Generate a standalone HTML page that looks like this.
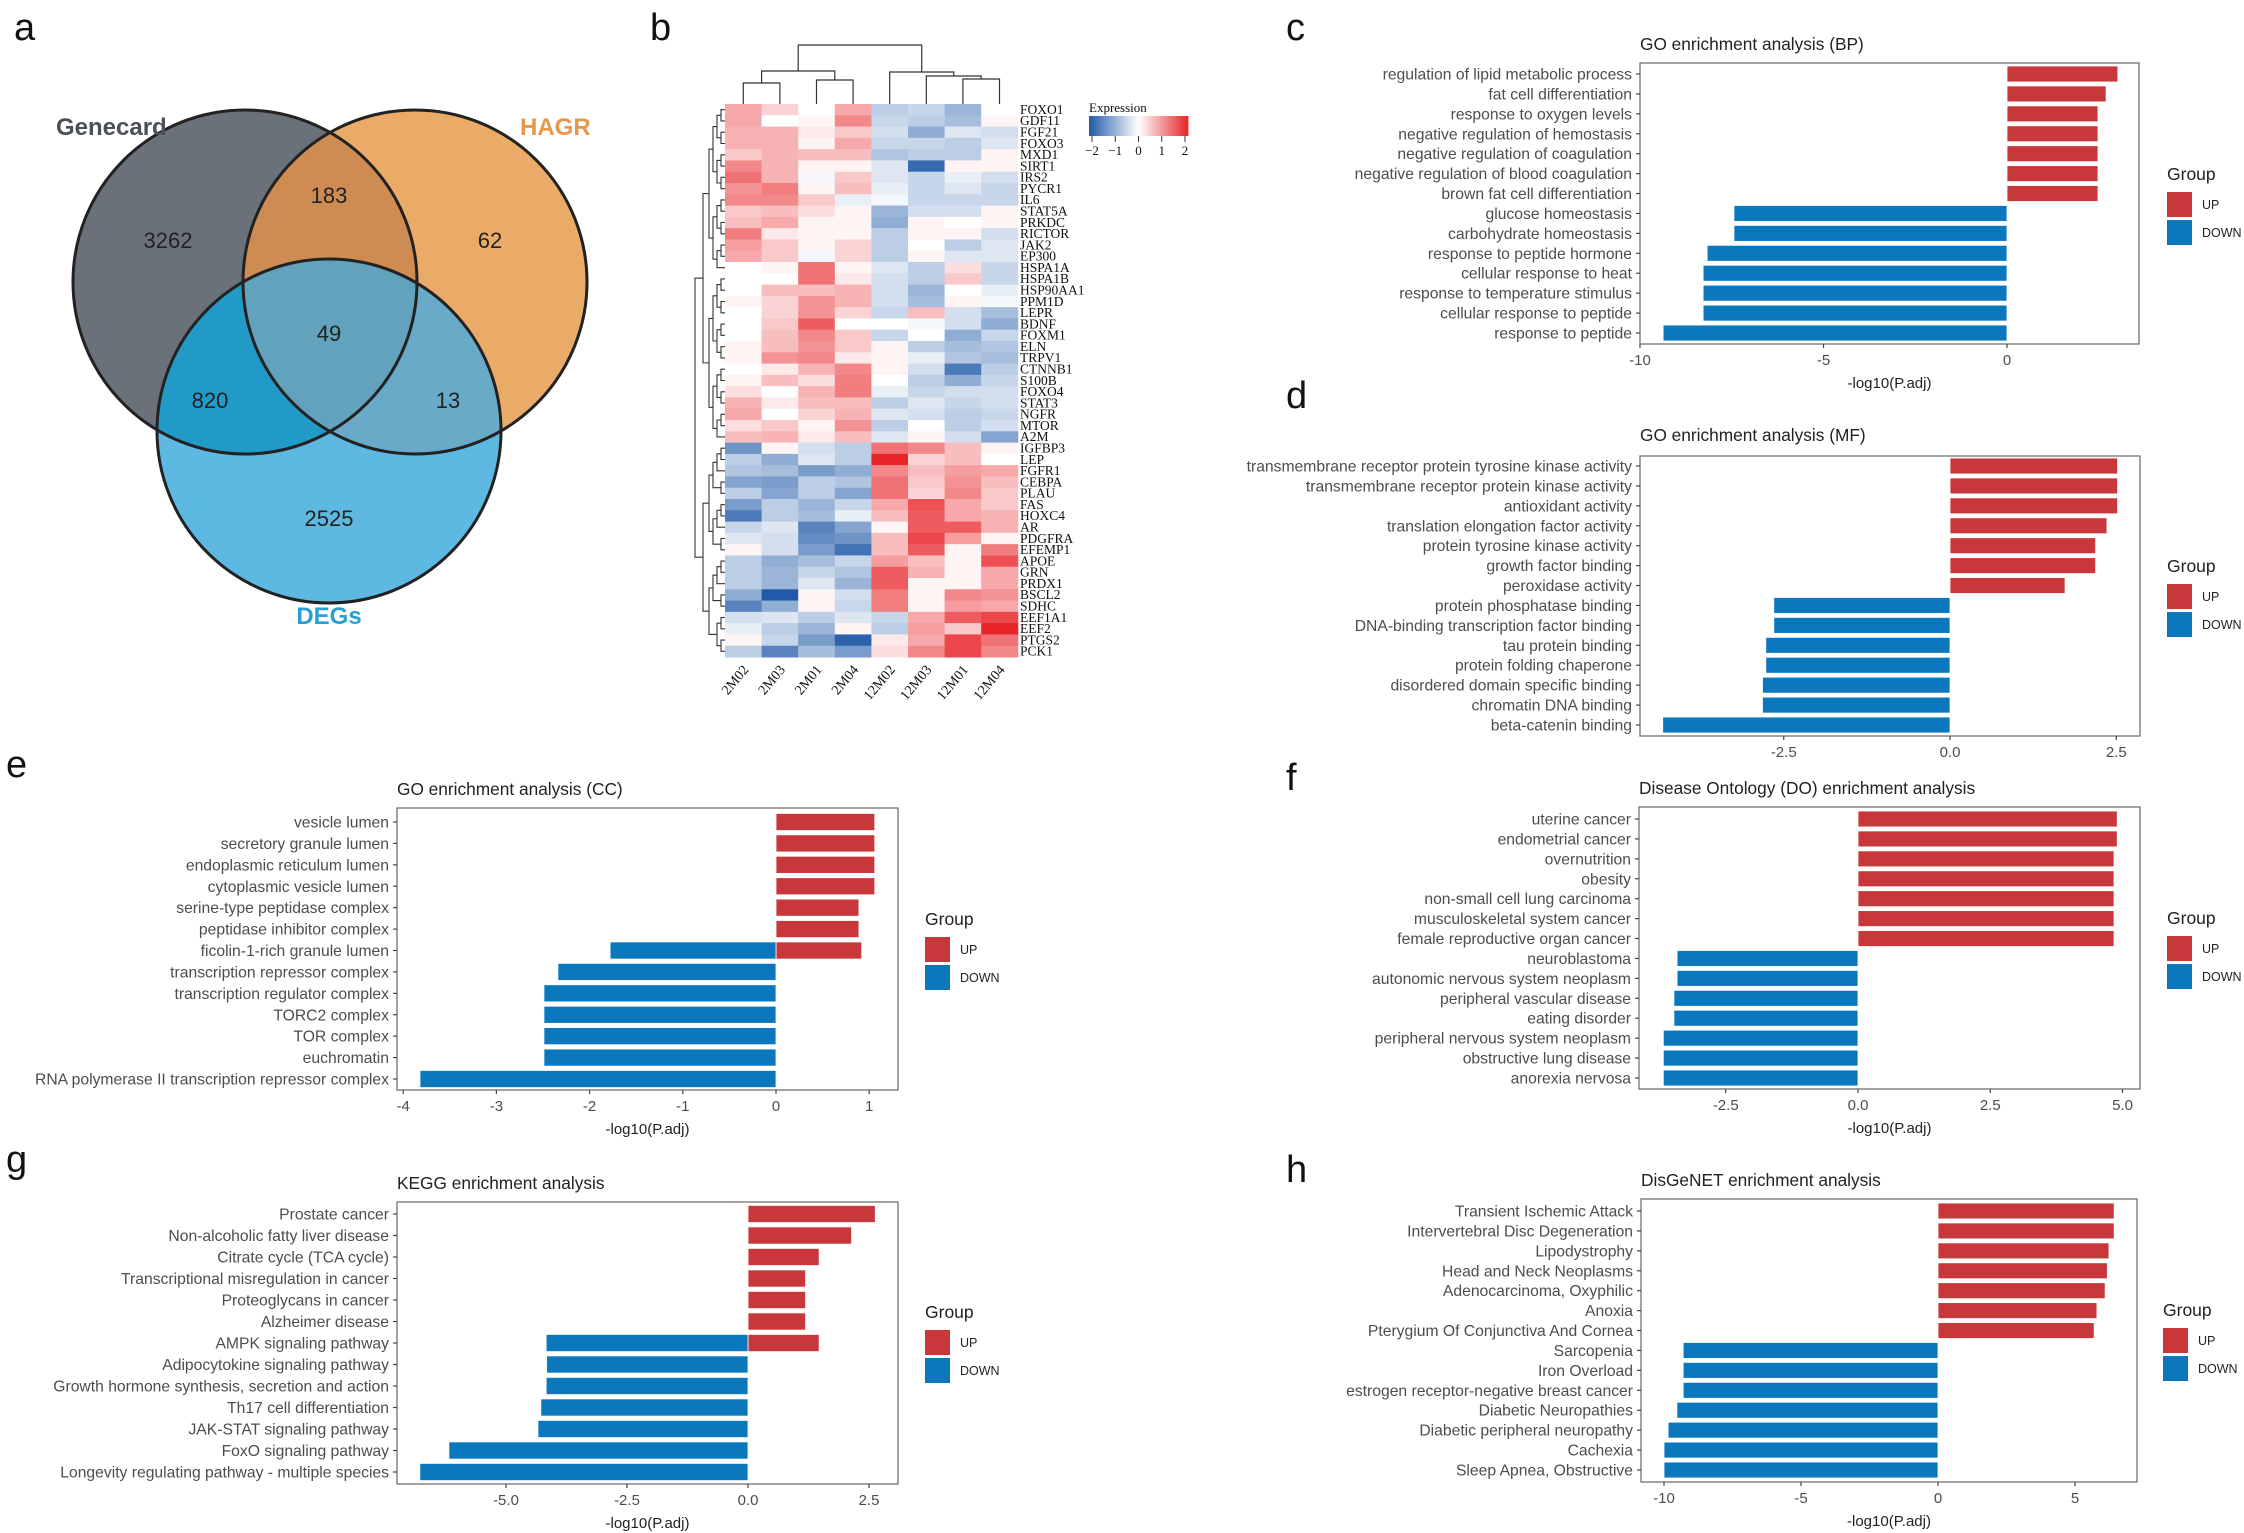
<!DOCTYPE html>
<html><head><meta charset="utf-8">
<style>
html,body{margin:0;padding:0;background:#fff;}
svg{display:block;font-family:"Liberation Sans",Arial,sans-serif;}
</style></head>
<body>
<svg id="fig" width="2244" height="1533" viewBox="0 0 2244 1533" xmlns="http://www.w3.org/2000/svg">
<rect x="0" y="0" width="2244" height="1533" fill="#fff"/>
<g id="venn">
  <defs>
    <clipPath id="cg"><circle cx="245" cy="282" r="172"/></clipPath>
    <clipPath id="ch"><circle cx="415" cy="282" r="172"/></clipPath>
    <clipPath id="cd"><circle cx="329" cy="431" r="172"/></clipPath>
  </defs>
  <circle cx="245" cy="282" r="172" fill="#6b717b"/>
  <circle cx="415" cy="282" r="172" fill="#ebab68"/>
  <circle cx="329" cy="431" r="172" fill="#5db9e1"/>
  <g clip-path="url(#cg)"><circle cx="415" cy="282" r="172" fill="#cf8c52"/><circle cx="329" cy="431" r="172" fill="#229ac8"/></g>
  <g clip-path="url(#ch)"><circle cx="329" cy="431" r="172" fill="#6aaac9"/></g>
  <g clip-path="url(#cg)"><g clip-path="url(#ch)"><circle cx="329" cy="431" r="172" fill="#63a2bc"/></g></g>
  <g fill="none" stroke="#222" stroke-width="3">
    <circle cx="245" cy="282" r="172"/><circle cx="415" cy="282" r="172"/><circle cx="329" cy="431" r="172"/>
  </g>
  <g font-size="22" fill="#222" text-anchor="middle">
    <text x="168" y="248">3262</text>
    <text x="329" y="203">183</text>
    <text x="490" y="248">62</text>
    <text x="329" y="341">49</text>
    <text x="210" y="408">820</text>
    <text x="448" y="408">13</text>
    <text x="329" y="526">2525</text>
  </g>
  <text x="56" y="135" font-size="24" font-weight="bold" fill="#4a4f58">Genecard</text>
  <text x="520" y="135" font-size="24" font-weight="bold" fill="#e5974a">HAGR</text>
  <text x="329" y="624" font-size="24" font-weight="bold" fill="#2a9fd4" text-anchor="middle">DEGs</text>
</g>
<g id="heat"></g>
<g id="bars"></g>
<g font-size="38" fill="#111" font-family="Liberation Sans, sans-serif">
  <text x="14" y="40">a</text>
  <text x="650" y="40">b</text>
  <text x="1286" y="40">c</text>
  <text x="1286" y="408">d</text>
  <text x="6" y="777">e</text>
  <text x="1286" y="790">f</text>
  <text x="6" y="1172">g</text>
  <text x="1286" y="1182">h</text>
</g>
</svg>
<script>
const NS="http://www.w3.org/2000/svg";
// ---------- heatmap data ----------
const heatSamples=["2M02","2M03","2M01","2M04","12M02","12M03","12M01","12M04"];
const heatGenes=["FOXO1","GDF11","FGF21","FOXO3","MXD1","SIRT1","IRS2","PYCR1","IL6","STAT5A","PRKDC","RICTOR","JAK2","EP300","HSPA1A","HSPA1B","HSP90AA1","PPM1D","LEPR","BDNF","FOXM1","ELN","TRPV1","CTNNB1","S100B","FOXO4","STAT3","NGFR","MTOR","A2M","IGFBP3","LEP","FGFR1","CEBPA","PLAU","FAS","HOXC4","AR","PDGFRA","EFEMP1","APOE","GRN","PRDX1","BSCL2","SDHC","EEF1A1","EEF2","PTGS2","PCK1"];
const heatValues=[
[0.8,0.4,0,0.8,-0.6,-0.5,-0.9,0],[0.8,0,0.1,1.1,-0.5,-0.6,-0.8,0.1],[0.7,0.7,0.2,0.5,-0.4,-1.0,-0.3,-0.4],[0.7,0.7,0.1,0.8,-0.5,-0.5,-0.6,-0.3],
[0.5,0.7,0.6,0.6,-0.7,-0.6,-0.6,0.1],[1.1,0.7,0.1,0.1,-0.3,-1.8,0.1,0.1],[1.3,0.7,-0.1,0.5,-0.3,-0.5,-0.2,-0.4],[1.0,1.2,0.1,0.6,-0.2,-0.5,-0.3,-0.5],
[1.1,1.1,0.5,-0.2,-0.1,-0.5,-0.5,-0.5],[0.5,0.6,0.3,0.1,-0.9,-0.4,-0.4,0.1],[0.6,0.8,0.1,0.1,-1.0,0.1,0,0.1],[1.2,0.2,0.1,0.1,-0.6,0.1,0.1,-0.4],
[0.9,0.5,0.1,0.4,-0.6,0,-0.6,-0.3],[0.8,0.5,-0.1,0.4,-0.6,0.1,-0.3,-0.3],[0,0.1,1.3,0.1,-0.3,-0.6,0.3,-0.5],[0,0,1.3,0.2,-0.4,-0.6,0.5,-0.5],
[0,0.6,0.6,0.7,-0.4,-0.9,0,-0.2],[0.1,0.4,1.0,0.7,-0.4,-0.8,0.1,-0.1],[0,0.4,1.0,0.4,-0.5,0.6,-0.4,-0.8],[0,0.5,1.5,0,0,-0.1,-0.4,-1.0],
[0,0.6,1.1,0.5,-0.5,0,-1.0,-0.5],[0.1,0.6,1.0,0.5,0.1,-0.6,-0.8,-0.7],[0.1,1.0,1.1,0.2,0.1,-0.2,-0.7,-0.8],[0,0.2,0.7,1.1,0.1,-0.4,-1.6,-0.6],
[0.1,0.6,0.3,1.2,0,-0.6,-1.0,-0.5],[0.3,0,0.7,1.2,-0.2,-0.5,-0.4,-0.4],[0.7,0.2,0.6,0.6,-0.6,-0.3,-0.5,-0.4],[0.8,0,0.4,0.7,-0.3,-0.4,-0.6,-0.5],
[0.3,0.5,0.1,1.0,-0.6,0,-0.6,-0.4],[0.6,0.7,0.2,0.6,-0.3,0.1,-0.4,-1.1],[-1.3,0.1,-0.4,-0.6,1.3,1.1,0.6,0.1],[-0.6,-1.0,-0.3,-0.6,2.0,0.4,0.6,0],
[-0.7,-0.8,-1.2,-1.0,1.1,0.6,0.9,0.8],[-1.1,-1.2,-0.6,-0.7,1.3,0.5,1.0,0.6],[-0.6,-1.1,-0.6,-1.1,1.3,0.4,1.1,0.5],[-1.2,-0.6,-0.9,-0.5,0.8,1.6,0.8,0.5],
[-1.6,-0.6,-0.8,-0.2,0.6,1.5,0.8,0.7],[-0.5,-0.3,-1.5,-1.1,0.1,1.5,1.5,0.7],[-0.3,-0.4,-1.4,-1.3,0.6,1.7,0.9,0.1],[0.1,-0.4,-1.2,-1.7,0.6,1.5,0.1,1.2],
[-0.6,-1.0,-0.8,-0.5,0.9,0.6,0.1,1.6],[-0.6,-0.9,-0.5,-0.7,1.5,0.7,0.1,0.8],[-0.6,-0.9,-0.3,-0.9,1.5,0.1,0.1,0.8],[-1.0,-2.0,0.1,-0.4,1.2,0.1,1.1,1.0],
[-1.5,-1.0,0.1,-0.5,1.2,0.1,0.9,0.8],[-0.4,-0.3,-0.6,-0.3,-0.5,0.8,1.5,1.7],[-0.2,-0.6,-0.9,0.1,-0.6,0.9,0.5,2.0],[0.1,-0.5,-1.2,-1.9,0.2,0.8,1.7,1.3],
[-0.6,-1.5,-0.8,-1.2,0.3,1.1,1.7,1.1]];
const heatLegendTicks=[-2,-1,0,1,2];

// ---------- bar chart data ----------
const labelsC=["regulation of lipid metabolic process","fat cell differentiation","response to oxygen levels","negative regulation of hemostasis","negative regulation of coagulation","negative regulation of blood coagulation","brown fat cell differentiation","glucose homeostasis","carbohydrate homeostasis","response to peptide hormone","cellular response to heat","response to temperature stimulus","cellular response to peptide","response to peptide"];
const upC=[3.02,2.7,2.48,2.48,2.48,2.48,2.48,null,null,null,null,null,null,null];
const downC=[null,null,null,null,null,null,null,-7.44,-7.44,-8.17,-8.28,-8.28,-8.28,-9.37];
const ticksC=[-10,-5,0];
const tickLabelsC=["-10","-5","0"];

const labelsD=["transmembrane receptor protein tyrosine kinase activity","transmembrane receptor protein kinase activity","antioxidant activity","translation elongation factor activity","protein tyrosine kinase activity","growth factor binding","peroxidase activity","protein phosphatase binding","DNA-binding transcription factor binding","tau protein binding","protein folding chaperone","disordered domain specific binding","chromatin DNA binding","beta-catenin binding"];
const upD=[2.52,2.52,2.52,2.36,2.19,2.19,1.73,null,null,null,null,null,null,null];
const downD=[null,null,null,null,null,null,null,-2.65,-2.65,-2.77,-2.77,-2.82,-2.82,-4.32];
const ticksD=[-2.5,0,2.5];
const tickLabelsD=["-2.5","0.0","2.5"];

const labelsE=["vesicle lumen","secretory granule lumen","endoplasmic reticulum lumen","cytoplasmic vesicle lumen","serine-type peptidase complex","peptidase inhibitor complex","ficolin-1-rich granule lumen","transcription repressor complex","transcription regulator complex","TORC2 complex","TOR complex","euchromatin","RNA polymerase II transcription repressor complex"];
const upE=[1.06,1.06,1.06,1.06,0.89,0.89,0.92,null,null,null,null,null,null];
const downE=[null,null,null,null,null,null,-1.78,-2.34,-2.49,-2.49,-2.49,-2.49,-3.82];
const ticksE=[-4,-3,-2,-1,0,1];
const tickLabelsE=["-4","-3","-2","-1","0","1"];

const labelsF=["uterine cancer","endometrial cancer","overnutrition","obesity","non-small cell lung carcinoma","musculoskeletal system cancer","female reproductive organ cancer","neuroblastoma","autonomic nervous system neoplasm","peripheral vascular disease","eating disorder","peripheral nervous system neoplasm","obstructive lung disease","anorexia nervosa"];
const upF=[4.9,4.9,4.84,4.84,4.84,4.84,4.84,null,null,null,null,null,null,null];
const downF=[null,null,null,null,null,null,null,-3.42,-3.42,-3.48,-3.48,-3.68,-3.68,-3.68];
const ticksF=[-2.5,0,2.5,5];
const tickLabelsF=["-2.5","0.0","2.5","5.0"];

const labelsG=["Prostate cancer","Non-alcoholic fatty liver disease","Citrate cycle (TCA cycle)","Transcriptional misregulation in cancer","Proteoglycans in cancer","Alzheimer disease","AMPK signaling pathway","Adipocytokine signaling pathway","Growth hormone synthesis, secretion and action","Th17 cell differentiation","JAK-STAT signaling pathway","FoxO signaling pathway","Longevity regulating pathway - multiple species"];
const upG=[2.63,2.14,1.47,1.19,1.19,1.19,1.47,null,null,null,null,null,null];
const downG=[null,null,null,null,null,null,-4.17,-4.16,-4.17,-4.28,-4.34,-6.18,-6.78];
const ticksG=[-5,-2.5,0,2.5];
const tickLabelsG=["-5.0","-2.5","0.0","2.5"];

const labelsH=["Transient Ischemic Attack","Intervertebral Disc Degeneration","Lipodystrophy","Head and Neck Neoplasms","Adenocarcinoma, Oxyphilic","Anoxia","Pterygium Of Conjunctiva And Cornea","Sarcopenia","Iron Overload","estrogen receptor-negative breast cancer","Diabetic Neuropathies","Diabetic peripheral neuropathy","Cachexia","Sleep Apnea, Obstructive"];
const upH=[6.43,6.43,6.24,6.18,6.1,5.8,5.7,null,null,null,null,null,null,null];
const downH=[null,null,null,null,null,null,null,-9.3,-9.3,-9.3,-9.53,-9.85,-10.0,-10.0];
const ticksH=[-10,-5,0,5];
const tickLabelsH=["-10","-5","0","5"];

function mk(tag,attrs,parent,text){const e=document.createElementNS(NS,tag);for(const k in attrs)e.setAttribute(k,attrs[k]);if(text!==undefined)e.textContent=text;parent.appendChild(e);return e;}

// ---------- heatmap ----------
(function(){
  const g=document.getElementById('heat');
  const x0=725,y0=104,cw=36.6,rh=553/heatGenes.length;
  function col(v){const t=Math.max(-1,Math.min(1,v/2));
    if(t>=0){return `rgb(${Math.round(255-t*(255-232))},${Math.round(255-t*(255-38))},${Math.round(255-t*(255-42))})`;}
    const s=-t;return `rgb(${Math.round(255-s*(255-33))},${Math.round(255-s*(255-90))},${Math.round(255-s*(255-168))})`;}
  heatValues.forEach((row,i)=>{row.forEach((v,j)=>{
    const r=mk('rect',{x:x0+j*cw,y:y0+i*rh,width:cw+0.5,height:rh+0.5,fill:col(v)},g);
    
    
  });
    const t=mk('text',{x:1020,y:y0+i*rh+rh*0.88,'font-size':13.5,'font-family':'Liberation Serif, serif',fill:'#111'},g,heatGenes[i]);
    
    
  });
  heatSamples.forEach((s,j)=>{
    const cx=x0+(j+0.5)*cw;
    const t=mk('text',{x:cx+6,y:670,'font-size':14,'font-family':'Liberation Serif, serif',fill:'#111','text-anchor':'end',transform:`rotate(-50 ${cx+6} 670)`},g,s);
    
    
  });
  const cxs=heatSamples.map((s,j)=>x0+(j+0.5)*cw);
  const dg=mk('g',{stroke:'#333','stroke-width':1.2,fill:'none'},g);
  
  
  function br(xa,ya,xb,yb,h){mk('path',{d:`M${xa},${ya}V${h}H${xb}V${yb}`},dg);}
  br(cxs[0],104,cxs[1],104,83); br(cxs[2],104,cxs[3],104,80);
  br((cxs[0]+cxs[1])/2,83,(cxs[2]+cxs[3])/2,80,71);
  br(cxs[6],104,cxs[7],104,79); br(cxs[5],104,(cxs[6]+cxs[7])/2,79,76);
  br(cxs[4],104,(cxs[5]+(cxs[6]+cxs[7])/2)/2,76,72);
  br((cxs[0]+cxs[1]+cxs[2]+cxs[3])/4,71,(cxs[4]+(cxs[5]+(cxs[6]+cxs[7])/2)/2)/2,72,45);
  const rg=mk('g',{stroke:'#333','stroke-width':1.1,fill:'none'},g);
  
  
  function tree(a,b,depth){
    if(a===b) return [y0+(a+0.5)*rh,x0];
    const m=Math.floor((a+b)/2);
    const L=tree(a,m,depth+1),R=tree(m+1,b,depth+1);
    const x=Math.min(L[1],R[1])-(depth<1?24:depth<2?6:4);
    mk('path',{d:`M${L[1]},${L[0]}H${x}V${R[0]}H${R[1]}`},rg);
    return [(L[0]+R[0])/2,x];
  }
  const T=tree(0,29,1),B=tree(30,48,1);
  const xr=Math.min(T[1],B[1])-8;
  mk('path',{d:`M${T[1]},${T[0]}H${xr}V${B[0]}H${B[1]}`},rg);
  const lg=mk('g',{},g);
  
  
  mk('text',{x:1089,y:112,'font-size':13,'font-family':'Liberation Serif, serif',fill:'#111'},lg,'Expression');
  const lx0=1089,lx1=1188;
  for(let k=0;k<40;k++){const v=-2+4*(k+0.5)/40;mk('rect',{x:lx0+k*(lx1-lx0)/40,y:116,width:(lx1-lx0)/40+0.4,height:20,fill:col(v)},lg);}
  heatLegendTicks.forEach(v=>{const x=lx0+3+(v+2)/4*(lx1-lx0-6);
    mk('line',{x1:x,x2:x,y1:136,y2:142,stroke:'#333'},lg);
    mk('text',{x:x,y:155,'font-size':13,'font-family':'Liberation Serif, serif','text-anchor':'middle',fill:'#111'},lg,v<0?'\u2212'+Math.abs(v):String(v));});
})();

// ---------- bar charts ----------
function barChart(id,title,labels,up,down,ticks,tickLabels,L){
  const root=document.getElementById('bars');
  const g=mk('g',{},root);
  
  
  const sx=v=>L.zx+v*L.ppu;
  const n=labels.length;
  const sy=i=>L.r0+i*(L.r1-L.r0)/(n-1);
  const step=(L.r1-L.r0)/(n-1), bh=step*0.8;
  const tt=mk('text',{x:L.bx0,y:L.ty,'font-size':17.3,fill:'#222'},g,title);
  
  
  mk('rect',{x:L.bx0,y:L.by0,width:L.bx1-L.bx0,height:L.by1-L.by0,fill:'#fff',stroke:'#666','stroke-width':1.2},g);
  labels.forEach((lab,i)=>{
    const y=sy(i);
    const t=mk('text',{x:L.bx0-8,y:y+5.5,'font-size':15.7,fill:'#4d4d4d','text-anchor':'end'},g,lab);
    
    
    mk('line',{x1:L.bx0-4,x2:L.bx0,y1:y,y2:y,stroke:'#444','stroke-width':1.2},g);
    if(up[i]!==null){
      const r=mk('rect',{x:sx(0),y:y-bh/2,width:sx(up[i])-sx(0),height:bh,fill:'#c8373a',stroke:'#fff','stroke-width':0.8},g);
      
      
    }
    if(down[i]!==null){
      const r=mk('rect',{x:sx(down[i]),y:y-bh/2,width:sx(0)-sx(down[i]),height:bh,fill:'#0b77bd',stroke:'#fff','stroke-width':0.8},g);
      
      
    }
  });
  ticks.forEach((v,k)=>{
    const x=sx(v);
    mk('line',{x1:x,x2:x,y1:L.by1,y2:L.by1+4,stroke:'#444','stroke-width':1.2},g);
    const t=mk('text',{x:x,y:L.by1+21,'font-size':15,fill:'#4d4d4d','text-anchor':'middle'},g,tickLabels[k]);
    
    
  });
  if(L.axt){
    const t=mk('text',{x:(L.bx0+L.bx1)/2,y:L.by1+44,'font-size':15,fill:'#222','text-anchor':'middle'},g,'-log10(P.adj)');
    
    
  }
  const lg=mk('g',{},g);
  
  
  mk('text',{x:L.lx,y:L.ly,'font-size':17.5,fill:'#222'},lg,'Group');
  const e1=mk('rect',{x:L.lx,y:L.ly+12,width:25,height:25,fill:'#c8373a'},lg);
  
  
  mk('text',{x:L.lx+35,y:L.ly+29,'font-size':12.5,fill:'#222'},lg,'UP');
  const e2=mk('rect',{x:L.lx,y:L.ly+40,width:25,height:25,fill:'#0b77bd'},lg);
  
  
  mk('text',{x:L.lx+35,y:L.ly+57,'font-size':12.5,fill:'#222'},lg,'DOWN');
}
barChart('go-bp-chart','GO enrichment analysis (BP)',labelsC,upC,downC,ticksC,tickLabelsC,
  {bx0:1640,bx1:2139,by0:63,by1:344,r0:74,r1:333,zx:2007,ppu:36.7,ty:50,lx:2167,ly:180,axt:true});
barChart('go-mf-chart','GO enrichment analysis (MF)',labelsD,upD,downD,ticksD,tickLabelsD,
  {bx0:1640,bx1:2140,by0:456,by1:736,r0:466,r1:725,zx:1950,ppu:66.5,ty:441,lx:2167,ly:572,axt:false});
barChart('go-cc-chart','GO enrichment analysis (CC)',labelsE,upE,downE,ticksE,tickLabelsE,
  {bx0:397,bx1:898,by0:808,by1:1090,r0:822,r1:1079,zx:776,ppu:93.2,ty:795,lx:925,ly:925,axt:true});
barChart('do-chart','Disease Ontology (DO) enrichment analysis',labelsF,upF,downF,ticksF,tickLabelsF,
  {bx0:1639,bx1:2140,by0:807,by1:1089,r0:819,r1:1078,zx:1858,ppu:52.9,ty:794,lx:2167,ly:924,axt:true});
barChart('kegg-chart','KEGG enrichment analysis',labelsG,upG,downG,ticksG,tickLabelsG,
  {bx0:397,bx1:898,by0:1202,by1:1484,r0:1214,r1:1472,zx:748,ppu:48.4,ty:1189,lx:925,ly:1318,axt:true});
barChart('disgenet-chart','DisGeNET enrichment analysis',labelsH,upH,downH,ticksH,tickLabelsH,
  {bx0:1641,bx1:2137,by0:1199,by1:1482,r0:1211,r1:1470,zx:1938,ppu:27.4,ty:1186,lx:2163,ly:1316,axt:true});
</script>
</body></html>
